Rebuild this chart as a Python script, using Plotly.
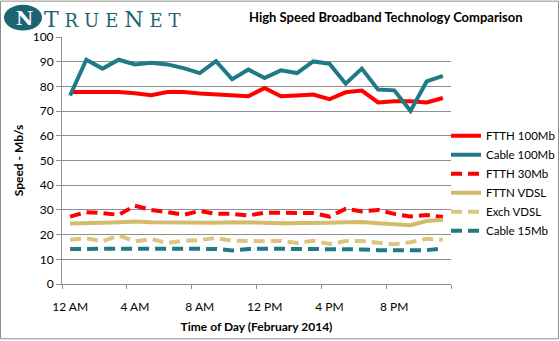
import plotly.graph_objects as go

# Hourly average download speeds, February 2014 (Mb/s)
hours = list(range(24))
tick_hours = [0, 4, 8, 12, 16, 20]
tick_labels = ["12 AM", "4 AM", "8 AM", "12 PM", "4 PM", "8 PM"]

ftth_100 = [77.7, 77.8, 77.5, 77.7, 77.2, 76.4, 77.7, 77.7, 77.1, 76.7, 76.7, 76.0,
            79.4, 76.0, 76.3, 76.7, 74.8, 77.6, 78.3, 73.5, 74.0, 74.0, 73.5, 75.3]
cable_100 = [76.3, 90.8, 87.2, 90.8, 88.9, 89.6, 88.9, 87.4, 85.4, 90.2, 82.9, 86.8,
             83.4, 86.5, 85.4, 90.1, 89.2, 81.1, 87.2, 78.7, 78.4, 70.1, 82.0, 84.3]
ftth_30 = [27.3, 29.1, 28.7, 28.0, 31.7, 30.0, 29.1, 28.0, 29.6, 28.4, 28.4, 27.7,
           28.9, 28.9, 28.9, 28.7, 27.3, 30.4, 29.4, 30.0, 28.4, 27.3, 27.9, 27.1]
fttn_vdsl = [24.5, 24.5, 24.8, 25.0, 25.3, 25.0, 24.9, 24.9, 24.8, 24.8, 25.0, 25.1,
             24.8, 24.6, 24.8, 25.0, 24.8, 25.0, 25.1, 24.6, 24.2, 23.8, 25.5, 26.0]
exch_vdsl = [17.9, 18.5, 17.3, 19.6, 17.3, 18.2, 16.6, 17.5, 17.8, 18.6, 17.5, 17.3,
             17.3, 17.5, 16.6, 17.5, 16.2, 17.4, 17.4, 16.7, 16.1, 16.9, 18.3, 17.9]
cable_15 = [14.2, 14.3, 14.3, 14.3, 14.3, 14.3, 14.3, 14.3, 14.3, 14.2, 13.6, 14.2,
            14.3, 14.3, 14.3, 14.3, 14.3, 14.3, 14.0, 13.7, 13.6, 13.6, 13.7, 14.4]

RED = "#ff0000"
TEAL = "#1f7a86"
TAN = "#d3bb6b"
TAN_LIGHT = "#dcc67f"
GRID = "#8f8f8f"
FONT = "Lato"

series = [
    ("FTTH 100Mb", ftth_100, RED, "solid"),
    ("Cable 100Mb", cable_100, TEAL, "solid"),
    ("FTTH 30Mb", ftth_30, RED, "11px,6px"),
    ("FTTN VDSL", fttn_vdsl, TAN, "solid"),
    ("Exch VDSL", exch_vdsl, TAN_LIGHT, "11px,6px"),
    ("Cable 15Mb", cable_15, TEAL, "11px,6px"),
]

fig = go.Figure()
for name, vals, color, dash in series:
    fig.add_trace(go.Scatter(
        x=hours, y=vals, name=name, mode="lines",
        line=dict(color=color, width=4, dash=dash),
    ))

W, H = 560, 341
ml, mr, mt, mb = 62, 109, 36.5, 56.5
pw, ph = W - ml - mr, H - mt - mb

fig.update_layout(
    width=W, height=H,
    margin=dict(l=ml, r=mr, t=mt, b=mb, pad=0, autoexpand=False),
    paper_bgcolor="white", plot_bgcolor="white",
    font=dict(family=FONT, size=12, color="#000000"),
    showlegend=True,
    legend=dict(
        x=(446 - ml) / pw, y=(284.5 - 121) / ph, xanchor="left", yanchor="top",
        font=dict(family=FONT, size=11.5, color="#000000"),
        bgcolor="rgba(0,0,0,0)", borderwidth=0, tracegroupgap=0,
        itemwidth=30,
    ),
    xaxis=dict(
        range=[-0.5, 23.5], tickmode="array", tickvals=tick_hours, ticktext=tick_labels,
        ticks="", showgrid=False, zeroline=False,
        showline=True, linecolor=GRID, linewidth=1,
        ticklabelstandoff=12,
        tickfont=dict(family=FONT, size=12, color="#000000"),
        minor=dict(tickmode="array", tickvals=[h - 0.5 for h in tick_hours] + [23.5],
                   ticks="outside", ticklen=4, tickcolor=GRID, showgrid=False),
        title=dict(text="<b>Time of Day (February 2014)</b>", standoff=9,
                   font=dict(family=FONT, size=12, color="#000000")),
    ),
    yaxis=dict(
        range=[0, 100], tickmode="linear", tick0=0, dtick=10,
        ticks="outside", ticklen=5, tickcolor=GRID,
        showgrid=True, gridcolor=GRID, gridwidth=1, zeroline=False,
        showline=True, linecolor=GRID, linewidth=1,
        tickfont=dict(family=FONT, size=12, color="#000000"),
        title=dict(text="<b>Speed - Mb/s</b>", standoff=6,
                   font=dict(family=FONT, size=12, color="#000000")),
    ),
)

# chart title
fig.add_annotation(
    text="<b>High Speed Broadband Technology Comparison</b>",
    xref="paper", yref="paper", x=(386 - ml) / pw, y=(284.5 - 16) / ph,
    xanchor="center", yanchor="middle", showarrow=False,
    font=dict(family=FONT, size=13, color="#000000"),
)

# TrueNet logo: emblem and wordmark
LOGO = "#1d6472"
fig.add_shape(type="circle", xref="paper", yref="paper",
              x0=(4 - ml) / pw, x1=(42 - ml) / pw,
              y0=(284.5 - 30) / ph, y1=(284.5 - 4) / ph,
              fillcolor=LOGO, line=dict(color=LOGO, width=0), layer="above")
fig.add_annotation(
    text="<b>N</b>", xref="paper", yref="paper",
    x=(24 - ml) / pw, y=(284.5 - 17) / ph, xanchor="center", yanchor="middle",
    showarrow=False, font=dict(family="DejaVu Serif", size=19, color="white"),
)
fig.add_annotation(
    text=("<span style='font-size:22px'>T</span>"
          "\u2004R\u2004U\u2004E\u2004"
          "<span style='font-size:22px'>N</span>"
          "\u2004E\u2004T"),
    xref="paper", yref="paper", x=(42 - ml) / pw, y=(284.5 - 19) / ph,
    xanchor="left", yanchor="middle", showarrow=False,
    font=dict(family="DejaVu Serif", size=18, color=LOGO),
)

# outer frame
fig.add_shape(type="rect", xref="paper", yref="paper",
              x0=(0.5 - ml) / pw, x1=(W - 1.5 - ml) / pw,
              y0=(284.5 - (H - 1.5)) / ph, y1=(284.5 - 0.5) / ph,
              line=dict(color="#8c8c8c", width=1), fillcolor="rgba(0,0,0,0)")

fig.write_html("out.html")
